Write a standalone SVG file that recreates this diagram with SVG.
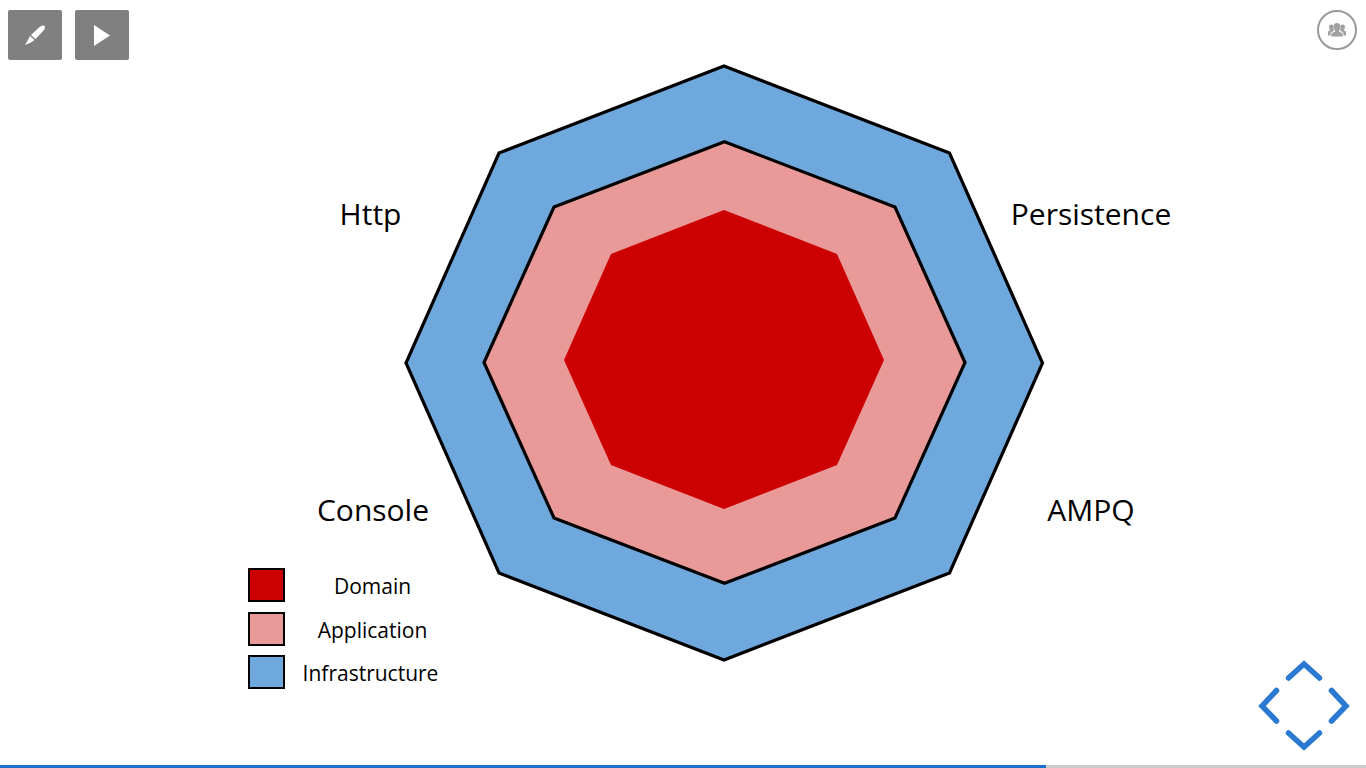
<svg xmlns="http://www.w3.org/2000/svg" width="1366" height="768" viewBox="0 0 1366 768">
<style>
.o{stroke:#000;stroke-width:3.2;stroke-linejoin:miter}
.l{stroke:#000;stroke-width:2}
.d{fill:#cc0000}.a{fill:#ea9999}.i{fill:#6fa8dc}
.t{font-family:"Open Sans","Noto Sans",sans-serif;fill:#000;text-anchor:middle}
.big{font-size:30px}.small{font-size:21px}
.btn{fill:#808080}
.nav{fill:none;stroke:#2a7ad3;stroke-width:5.500;stroke-linecap:round;stroke-linejoin:miter}
</style>
<rect width="1366" height="768" fill="#fff"/>
<g id="infrastructure"><polygon class="o i" points="724,66 949.500,153 1042.500,363 949.500,573 724,660 499,573 406,363 499,153"/></g>
<g id="application"><polygon class="o a" points="724.500,141.800 895,207 965,362.500 895,518 724.500,583.300 554,518 484,362.500 554,207"/></g>
<g id="domain"><polygon class="d" points="724,210 837,254 884,360 837,465 724,509 611,465 564,360 611,254"/></g>
<g id="label-http"><text class="t big" x="370.500" y="225">Http</text></g>
<g id="label-persistence"><text class="t big" x="1091" y="225">Persistence</text></g>
<g id="label-console"><text class="t big" x="373" y="521">Console</text></g>
<g id="label-ampq"><text class="t big" x="1091" y="521">AMPQ</text></g>
<g id="legend-domain"><rect class="l d" x="249" y="569" width="35" height="32"/><text class="t small" x="372.500" y="594">Domain</text></g>
<g id="legend-application"><rect class="l a" x="249" y="613" width="35" height="32"/><text class="t small" x="372.500" y="638">Application</text></g>
<g id="legend-infrastructure"><rect class="l i" x="249" y="656" width="35" height="32"/><text class="t small" x="370.500" y="681">Infrastructure</text></g>
<g id="btn-pen"><rect class="btn" x="8" y="10" width="54" height="50" rx="2"/>
<path fill="#fff" d="M39,27.500 Q42,25 44,25.500 Q46,27 44,30 L35.500,39 L31,35 Z M30,36 L34.500,40 L31,42.500 L25,45 L28,40 Z"/></g>
<g id="btn-play"><rect class="btn" x="75" y="10" width="54" height="50" rx="2"/><polygon fill="#fff" points="94,25 110,35.500 94,46"/></g>
<g id="btn-people"><circle cx="1337" cy="30" r="19" fill="#fff" stroke="#999" stroke-width="2"/>
<path fill="#a0a0a0" d="M1337,23 a3.200,3.200 0 0 1 3.200,3.200 q0,3.800 -1.500,5 l4,2.300 v3 h-11.400 v-3 l4,-2.300 q-1.500,-1.200 -1.500,-5 a3.200,3.200 0 0 1 3.200,-3.200 Z M1331.500,24.500 a2.500,2.500 0 0 1 2,1 q-.2,3.500 .5,5 l-3.500,2.500 v2.500 h-2.500 v-4 l2.500,-1.500 q-1.500,-1 -1.500,-3.500 a2.300,2.300 0 0 1 2.500,-2 Z M1342.500,24.500 a2.300,2.300 0 0 1 2.500,2 q0,2.500 -1.500,3.500 l2.500,1.500 v4 h-2.500 v-2.500 l-3.500,-2.500 q.7,-1.500 .5,-5 a2.500,2.500 0 0 1 2,-1 Z"/></g>
<g id="nav-controls">
<path class="nav" d="M1288.500,678 L1304,664 L1319.500,678"/>
<path class="nav" d="M1288.500,733 L1304,747 L1319.500,733"/>
<path class="nav" d="M1276.500,690.500 L1262,706 L1276.500,721"/>
<path class="nav" d="M1331.500,690.500 L1346,706 L1331.500,721"/>
</g>
<g id="progress"><rect x="0" y="765" width="1366" height="3" fill="#ccc"/><rect x="0" y="765" width="1046" height="3" fill="#1a6fc9"/></g>
</svg>
